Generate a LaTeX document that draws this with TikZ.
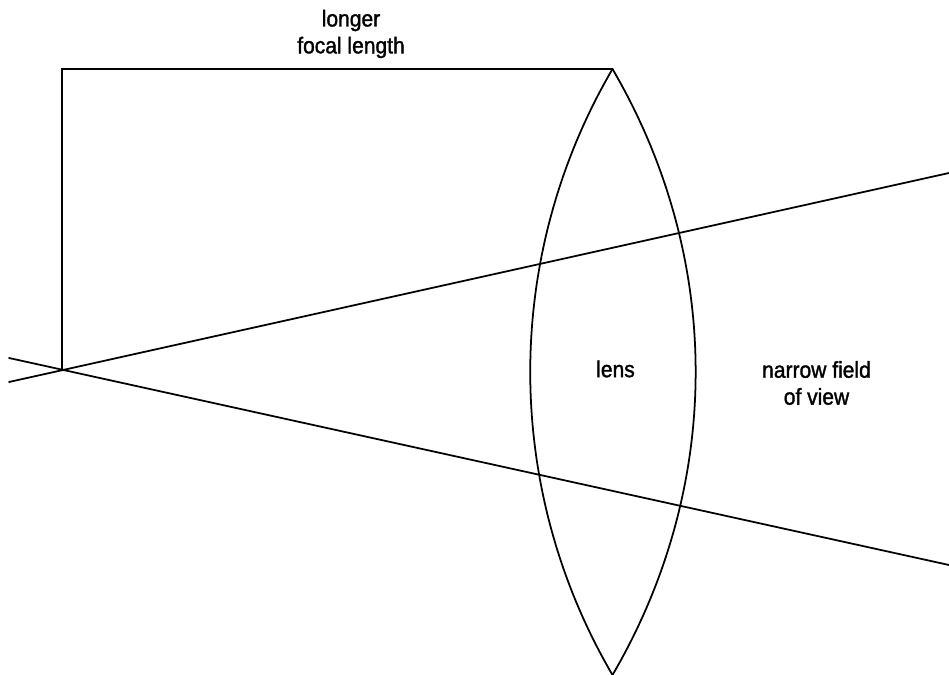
\documentclass[tikz,border=0pt]{standalone}
\usepackage{fontspec}
\setmainfont[FakeBold=1.5,FakeStretch=0.92]{Liberation Sans}
\usetikzlibrary{positioning}
\tikzset{
  ray/.style={line width=0.5pt, line cap=round},
  caption/.style={align=center, inner sep=0pt, font=\fontsize{6.5}{7.65}\selectfont}
}

\begin{document}
\begin{tikzpicture}
  \useasboundingbox (0,0) rectangle (9.49,6.75);
  \coordinate (focus) at (0.62,3.05);
  \coordinate (corner) at (0.62,6.06);
  \coordinate (lenstop) at (6.125,6.06);
  \coordinate (lensbot) at (6.125,0.0);
  \coordinate (upin) at (0.09,2.93);
  \coordinate (upout) at (9.49,5.02);
  \coordinate (downin) at (0.09,3.17);
  \coordinate (downout) at (9.49,1.10);
  \draw[ray] (focus) -- (corner) -- (lenstop);
  \draw[ray] (lenstop) to[bend right=30.3,looseness=0.92] (lensbot);
  \draw[ray] (lenstop) to[bend left=30.3,looseness=0.93] (lensbot);
  \draw[ray] (upin) -- (upout);
  \draw[ray] (downin) -- (downout);
  \node[caption] (focal) at (3.51,6.41) {longer\\focal length};
  \node[caption] (lens) at (6.155,3.06) {lens};
  \node[caption] (field) at (8.165,2.92) {narrow field\\of view};
\end{tikzpicture}
\end{document}
